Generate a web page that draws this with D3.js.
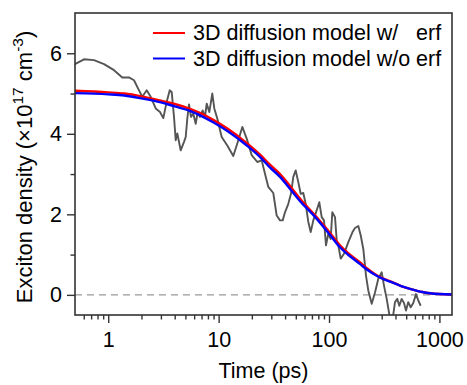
<!DOCTYPE html>
<html><head><meta charset="utf-8">
<script src="https://cdn.jsdelivr.net/npm/d3@7/dist/d3.min.js"></script>
<style>
body{margin:0;background:#fff}
text{font-family:"Liberation Sans",Arial,sans-serif;fill:#000}
</style>
</head><body>
<svg id="chart" width="467" height="385"></svg>
<script>
// Experimental data (time in ps, density in 1e17 cm^-3)
const expTime = [0.50,0.603,0.743,0.916,1.128,1.341,1.542,1.712,1.900,2.035,2.231,2.425,2.692,2.944,3.154,3.357,3.605,3.757,3.942,4.085,4.224,4.533,4.858,5.033,5.204,5.391,5.620,5.897,6.199,6.462,6.779,7.173,7.525,7.797,8.232,8.763,9.137,9.725,10.66,11.98,13.58,15.08,16.39,17.96,19.93,22.40,24.55,26.30,28.18,31.27,33.57,35.96,38.04,39.92,42.77,45.24,47.47,49.90,52.68,55.39,58.48,61.49,64.91,68.24,72.04,77.32,81.62,85.82,90.03,93.89,98.49,103.5,107.1,113.3,117.4,121.3,127.6,136.6,149.5,163.2,171.9,184.1,193.6,204.4,216.2,226.8,243.5,260.9,279.5,300.0,314.7,333.1,356.8,377.4,395.9,415.3,433.0,455.2,477.6,498.0,522.4,549.3,579.8,613.4,643.5,676.5];
const expDensity = [5.73,5.85,5.83,5.73,5.58,5.40,5.40,5.33,5.08,4.92,5.08,4.92,4.63,4.54,4.39,4.75,5.08,5.04,4.42,3.84,4.01,3.59,3.80,3.92,4.38,4.73,4.42,4.50,4.25,4.54,4.42,4.58,4.42,4.75,4.54,5.00,4.63,4.38,3.92,3.71,3.45,3.84,4.17,3.88,3.47,3.30,3.34,3.01,2.68,2.53,1.97,1.85,1.85,2.05,2.26,2.51,2.93,3.09,2.80,2.51,2.53,2.26,1.81,1.56,1.85,2.10,2.30,1.93,1.85,1.23,1.52,1.39,2.05,1.93,1.35,1.23,0.90,1.02,1.31,1.56,1.66,1.71,1.48,1.14,0.48,0.11,-0.22,0.06,0.40,0.56,0.23,-0.10,-0.59,-0.59,-0.18,-0.10,-0.27,-0.10,-0.20,-0.39,-0.18,-0.31,-0.20,0.02,-0.14,-0.27];

// Model curves
const fitTime = [0.5,1,1.4,2,3,4,5.5,7,9,12,18,24,29,36,45,55,75,100,125,150,190,220,280,356,450,541,700,822,1000,1300];
const fitWithErf = [5.07,5.03,5.00,4.93,4.82,4.74,4.62,4.50,4.34,4.13,3.77,3.47,3.24,3.00,2.68,2.38,1.97,1.57,1.24,1.03,0.81,0.66,0.46,0.34,0.22,0.15,0.07,0.04,0.02,0.01];
const fitWithoutErf = [5.01,4.98,4.95,4.88,4.78,4.68,4.57,4.44,4.28,4.07,3.71,3.41,3.17,2.93,2.61,2.32,1.93,1.52,1.19,0.99,0.77,0.63,0.45,0.33,0.22,0.15,0.07,0.04,0.02,0.01];

const seriesNames = ["3D diffusion model w/   erf", "3D diffusion model w/o erf"];
const seriesColors = ["#ff0000", "#0000ff"];

const xDomain = [0.5, 1300];
const yDomain = [-0.5, 7];
const xMajorTicks = [1, 10, 100, 1000];
const xMinorTicks = [0.6,0.7,0.8,0.9,2,3,4,5,6,7,8,9,20,30,40,50,60,70,80,90,200,300,400,500,600,700,800,900];
const yMajorTicks = [0, 2, 4, 6];
const yMinorTicks = [1, 3, 5];

const svg = d3.select("#chart");
const L = 75, T = 13, R = 452, B = 315;
const x = d3.scaleLog().domain(xDomain).range([L, R]);
const y = d3.scaleLinear().domain(yDomain).range([B, T]);
const fs = 21.5;

svg.append("defs").append("clipPath").attr("id","clip")
  .append("rect").attr("x",L).attr("y",T).attr("width",R-L).attr("height",B-T);

// zero reference line
svg.append("line").attr("x1",L).attr("x2",R).attr("y1",y(0)).attr("y2",y(0))
  .attr("stroke","#999").attr("stroke-width",1.3).attr("stroke-dasharray","7,5");

const plot = svg.append("g").attr("clip-path","url(#clip)");

const expLine = d3.line().x((d,i)=>x(expTime[i])).y(d=>y(d));
plot.append("path").datum(expDensity).attr("d",expLine)
  .attr("fill","none").attr("stroke","#555").attr("stroke-width",1.9).attr("stroke-linejoin","round");

const fitLine = d3.line().x((d,i)=>x(fitTime[i])).y(d=>y(d)).curve(d3.curveMonotoneX);
[fitWithErf, fitWithoutErf].forEach((s,k)=>{
  plot.append("path").datum(s).attr("d",fitLine)
    .attr("fill","none").attr("stroke",seriesColors[k]).attr("stroke-width",2.4);
});

// axes
function styleAxis(g){ g.select(".domain").remove(); g.selectAll("line").attr("stroke","#333").attr("stroke-width",1.4); g.selectAll("text").style("font-size",fs+"px").attr("fill","#000"); }
svg.append("g").attr("transform",`translate(0,${B})`)
  .call(d3.axisBottom(x).tickValues(xMajorTicks).tickFormat(d3.format("d")).tickSize(8).tickPadding(9)).call(styleAxis);
svg.append("g").attr("transform",`translate(0,${B})`)
  .call(d3.axisBottom(x).tickValues(xMinorTicks).tickFormat("").tickSize(4.5)).call(styleAxis);
svg.append("g").attr("transform",`translate(${L},0)`)
  .call(d3.axisLeft(y).tickValues(yMajorTicks).tickFormat(d3.format("d")).tickSize(8).tickPadding(5)).call(styleAxis);
svg.append("g").attr("transform",`translate(${L},0)`)
  .call(d3.axisLeft(y).tickValues(yMinorTicks).tickFormat("").tickSize(4.5)).call(styleAxis);

svg.append("rect").attr("x",L).attr("y",T).attr("width",R-L).attr("height",B-T)
  .attr("fill","none").attr("stroke","#333").attr("stroke-width",1.6);

// axis titles
svg.append("text").attr("x",(L+R)/2).attr("y",378).attr("text-anchor","middle")
  .style("font-size",fs+"px").text("Time (ps)");
const yt = svg.append("text").attr("transform",`translate(32,167) rotate(-90)`)
  .attr("text-anchor","middle").style("font-size","22px");
yt.append("tspan").text("Exciton density (\u00d710");
yt.append("tspan").attr("dy",-9).style("font-size","15.5px").text("17");
yt.append("tspan").attr("dy",9).text(" cm");
yt.append("tspan").attr("dy",-9).style("font-size","15.5px").text("-3");
yt.append("tspan").attr("dy",9).text(")");

// legend
const legY = [33, 58.5];
seriesNames.forEach((n,k)=>{
  svg.append("line").attr("x1",153).attr("x2",185).attr("y1",legY[k]).attr("y2",legY[k])
    .attr("stroke",seriesColors[k]).attr("stroke-width",2);
  svg.append("text").attr("x",193).attr("y",legY[k]+7).style("font-size",fs+"px")
    .style("white-space","pre").attr("xml:space","preserve").text(n);
});
</script>
</body></html>
